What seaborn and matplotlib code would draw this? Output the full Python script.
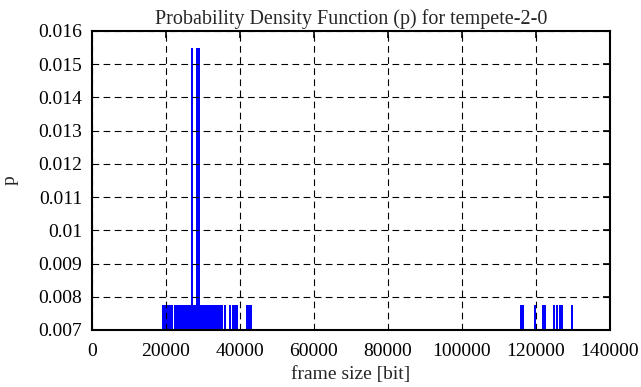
import numpy as np
import matplotlib
matplotlib.use("Agg")
import matplotlib.pyplot as plt
import seaborn as sns

# --- data: frame sizes [bit] and their probability ---
# dense group of frames between ~19000 and ~34500 bit
dense_sizes = [19200, 19500, 19800, 20100, 20400, 20700, 21000, 21400,
               22400, 22700, 23000, 23400, 23800, 24200, 24600, 25000, 25400,
               25800, 26200, 26600, 27000, 27400, 27800, 28200, 28600, 29000,
               29400, 29800, 30200, 30600, 31000, 31400, 31800, 32200, 32600,
               33000, 33400, 33800, 34200]
# isolated frames
sparse_sizes = [34900, 35200, 36000, 37300, 38000, 38700, 39100,
                41900, 42400, 42900,
                115870, 116570, 119620, 121800, 122400, 124860, 125680,
                126600, 127100, 129670]
low_p = 0.00775

high_sizes = [27000, 28400, 28900]
high_p = [0.0155] * len(high_sizes)

x_ticks = [0, 20000, 40000, 60000, 80000, 100000, 120000, 140000]
y_ticks = [0.007, 0.008, 0.009, 0.01, 0.011, 0.012, 0.013, 0.014, 0.015, 0.016]
y_labels = ['0.007', '0.008', '0.009', '0.01', '0.011', '0.012', '0.013',
            '0.014', '0.015', '0.016']

sns.set_style("white")
plt.rcParams['font.family'] = ['Liberation Serif', 'DejaVu Serif']

fig = plt.figure(figsize=(6.41, 3.87), dpi=100)
ax = fig.add_axes([92 / 641, 1 - 330 / 387, (610 - 92) / 641, (330 - 31) / 387])

# impulses (gnuplot style)
ax.vlines(dense_sizes, 0, [low_p] * len(dense_sizes), color='#0000ff',
          linewidth=1.8, antialiased=False)
ax.vlines(sparse_sizes, 0, [low_p] * len(sparse_sizes), color='#0000ff',
          linewidth=1.2, antialiased=False)
ax.vlines(high_sizes, 0, high_p, color='#0000ff', linewidth=1.4, antialiased=False)

ax.set_xlim(0, 140000)
ax.set_ylim(0.007, 0.016)
ax.set_xticks(x_ticks)
ax.set_xticklabels([str(t) for t in x_ticks])
ax.set_yticks(y_ticks)
ax.set_yticklabels(y_labels)

ax.grid(True, color='black', linestyle=(0, (6, 4)), linewidth=0.8)
ax.set_axisbelow(False)
for s in ax.spines.values():
    s.set_color('black')
    s.set_linewidth(1.5)
ax.tick_params(direction='in', length=5, width=1.2, top=True, right=True,
               labelsize=14, colors='black')
ax.tick_params(axis='x', pad=9)
ax.tick_params(axis='y', pad=7)

ax.set_title('Probability Density Function (p) for tempete-2-0', fontsize=14.5, pad=5)
ax.set_xlabel('frame size [bit]', fontsize=14, labelpad=5)
ax.set_ylabel('p', fontsize=14, labelpad=14)

plt.savefig('out.png', dpi=100)
